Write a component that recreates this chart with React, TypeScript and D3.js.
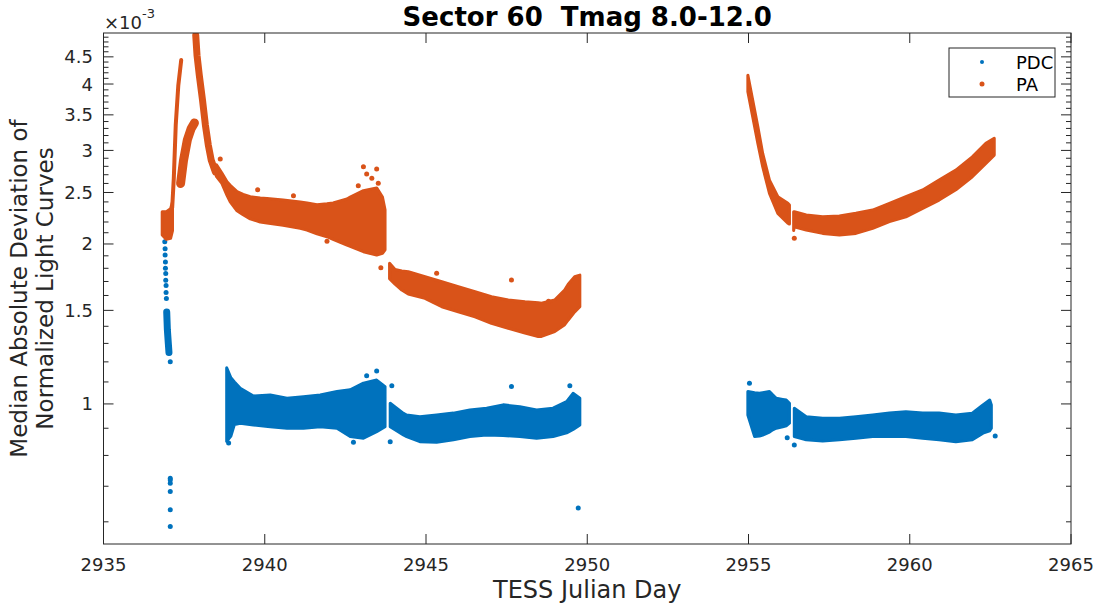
import React from 'react';
import * as d3 from 'd3';

// values in units of 1e-3 (axis multiplier shown as x10^-3)
const xTicks = [2935, 2940, 2945, 2950, 2955, 2960, 2965];
const yTicks = [1, 1.5, 2, 2.5, 3, 3.5, 4, 4.5];
const seriesNames = ['PDC', 'PA'];

// dense bands: [day, lower, upper]
const pdcBand1 = [
  [2938.82, 0.85, 1.17], [2938.95, 0.87, 1.12], [2939.06, 0.915, 1.10], [2939.24, 0.92, 1.07],
  [2939.65, 0.913, 1.035], [2940.17, 0.906, 1.04], [2940.69, 0.9, 1.025], [2941.2, 0.9, 1.032],
  [2941.72, 0.906, 1.04], [2942.24, 0.9, 1.055], [2942.65, 0.868, 1.063], [2943.06, 0.862, 1.094],
  [2943.47, 0.887, 1.109], [2943.73, 0.906, 1.078],
];
const pdcBand2 = [
  [2943.89, 0.906, 1.003], [2944.09, 0.89, 0.982], [2944.3, 0.874, 0.96], [2944.4, 0.868, 0.953],
  [2944.81, 0.849, 0.946], [2945.33, 0.847, 0.953], [2945.85, 0.856, 0.961], [2946.36, 0.868, 0.974],
  [2946.88, 0.874, 0.982], [2947.39, 0.872, 0.996], [2947.91, 0.868, 0.988], [2948.43, 0.862, 0.974],
  [2948.94, 0.868, 0.982], [2949.36, 0.882, 1.01], [2949.56, 0.895, 1.047], [2949.77, 0.913, 1.025],
];
const pdcBand3a = [
  [2954.98, 0.953, 1.055], [2955.19, 0.868, 1.05], [2955.34, 0.87, 1.047], [2955.44, 0.874, 1.05],
  [2955.65, 0.885, 1.055], [2955.75, 0.894, 1.04], [2955.86, 0.9, 1.025], [2956.06, 0.906, 1.02],
  [2956.17, 0.91, 1.017], [2956.27, 0.92, 1.003],
];
const pdcBand3b = [
  [2956.42, 0.868, 0.982], [2956.79, 0.856, 0.946], [2957.3, 0.852, 0.94], [2957.82, 0.856, 0.94],
  [2958.33, 0.862, 0.946], [2958.85, 0.868, 0.953], [2959.37, 0.868, 0.961], [2959.88, 0.868, 0.967],
  [2960.4, 0.862, 0.961], [2960.91, 0.856, 0.961], [2961.43, 0.849, 0.953], [2961.94, 0.856, 0.961],
  [2962.27, 0.881, 0.996], [2962.48, 0.89, 1.017], [2962.53, 0.9, 0.996],
];
const paChunk = [
  [2936.82, 2.08, 2.3], [2936.95, 2.04, 2.3], [2937.08, 2.05, 2.33], [2937.14, 2.12, 2.4],
];
const paBand1 = [
  [2938.5, 2.68, 2.82], [2938.67, 2.6, 2.72], [2938.83, 2.47, 2.62], [2938.93, 2.4, 2.58],
  [2939.14, 2.31, 2.51], [2939.33, 2.27, 2.48], [2939.55, 2.23, 2.455], [2939.86, 2.2, 2.44],
  [2940.07, 2.19, 2.437], [2940.57, 2.17, 2.42], [2941.1, 2.14, 2.4], [2941.31, 2.124, 2.39],
  [2941.62, 2.09, 2.37], [2941.93, 2.064, 2.38], [2942.12, 2.04, 2.39], [2942.55, 1.99, 2.43],
  [2942.65, 1.98, 2.45], [2943.06, 1.934, 2.52], [2943.47, 1.906, 2.55], [2943.65, 1.92, 2.45],
  [2943.73, 1.95, 2.32],
];
const paBand2 = [
  [2943.87, 1.72, 1.84], [2944.04, 1.68, 1.79], [2944.25, 1.638, 1.78], [2944.45, 1.61, 1.774],
  [2944.97, 1.58, 1.736], [2945.49, 1.524, 1.698], [2946.0, 1.491, 1.662], [2946.52, 1.459, 1.626],
  [2947.03, 1.418, 1.591], [2947.55, 1.388, 1.569], [2948.07, 1.359, 1.557], [2948.48, 1.339, 1.55],
  [2948.58, 1.34, 1.547], [2948.99, 1.368, 1.569], [2949.3, 1.41, 1.638], [2949.41, 1.439, 1.68],
  [2949.61, 1.49, 1.736], [2949.77, 1.524, 1.748],
];
const paBand3a = [
  [2954.98, 3.867, 4.157], [2955.13, 3.47, 3.73], [2955.29, 3.093, 3.323], [2955.44, 2.795, 2.961],
  [2955.65, 2.49, 2.638], [2955.91, 2.284, 2.455], [2956.22, 2.188, 2.385], [2956.27, 2.18, 2.367],
];
const paBand3b = [
  [2956.4, 2.12, 2.3], [2956.42, 2.155, 2.3], [2956.79, 2.125, 2.267], [2957.3, 2.094, 2.25],
  [2957.82, 2.079, 2.257], [2958.33, 2.094, 2.284], [2958.85, 2.14, 2.317], [2959.37, 2.203, 2.385],
  [2959.88, 2.25, 2.455], [2960.4, 2.334, 2.527], [2960.91, 2.419, 2.638], [2961.43, 2.53, 2.755],
  [2961.94, 2.676, 2.918], [2962.36, 2.836, 3.093], [2962.62, 2.94, 3.161],
];

// steep thin streaks: [day, value] along the middle
const pdcStreak = [[2936.96, 1.49], [2936.98, 1.38], [2937.01, 1.3], [2937.03, 1.25]];
const paRise = [[2937.13, 2.34], [2937.18, 2.66], [2937.24, 3.35], [2937.32, 3.98], [2937.41, 4.44]];
const paShoulder = [[2937.39, 2.6], [2937.48, 2.87], [2937.6, 3.14], [2937.72, 3.3], [2937.82, 3.38]];
const paPeak = [
  [2937.86, 4.94], [2937.9, 4.53], [2937.97, 4.157], [2938.07, 3.73], [2938.16, 3.347],
  [2938.25, 3.07], [2938.34, 2.876], [2938.47, 2.73],
];

// sparse points
const pdcDots = [
  [2936.9, 2.08], [2936.9, 2.02], [2936.91, 1.96], [2936.91, 1.906], [2936.92, 1.85], [2936.92, 1.8],
  [2936.93, 1.76], [2936.93, 1.71], [2936.94, 1.67], [2936.94, 1.62], [2936.95, 1.58], [2937.07, 1.2],
  [2937.07, 0.725], [2937.07, 0.719], [2937.07, 0.709], [2937.07, 0.684], [2937.07, 0.632], [2937.07, 0.588],
  [2943.16, 1.13], [2943.47, 1.154], [2943.94, 1.082], [2943.89, 0.849], [2938.88, 0.844], [2942.75, 0.847],
  [2947.65, 1.078], [2949.46, 1.082], [2949.72, 0.637], [2955.03, 1.094], [2956.42, 0.837], [2956.2, 0.864],
  [2962.65, 0.87],
];
const paDots = [
  [2938.62, 2.889], [2939.78, 2.53], [2940.89, 2.465], [2942.9, 2.574], [2943.06, 2.795], [2943.16, 2.708],
  [2943.32, 2.658], [2943.47, 2.767], [2943.52, 2.601], [2943.6, 1.805], [2941.93, 2.024], [2945.33, 1.762],
  [2947.65, 1.711], [2948.8, 1.56], [2956.42, 2.05],
];

const W = 1099;
const H = 607;
const L = 103.5, R = 1071, T = 33, B = 544;
const FONT = '"DejaVu Sans", sans-serif';
const AX = '#262626';
const BLUE = '#0072BD';
const ORANGE = '#D95319';

export default function App() {
  const x = d3.scaleLinear().domain([2935, 2965]).range([L, R]);
  const y = d3.scaleLog().domain([0.545, 4.99]).range([B, T]);

  const area = d3.area<number[]>().x(d => x(d[0])).y0(d => y(d[1])).y1(d => y(d[2]));
  const line = d3.line<number[]>().x(d => x(d[0])).y(d => y(d[1]));

  const minor = [0.6, 0.7, 0.8, 0.9, ...d3.range(11, 50).map(v => v / 10)]
    .filter(v => !yTicks.some(t => Math.abs(t - v) < 1e-9));

  const bands = (data: number[][][], color: string) =>
    data.map((d, i) => (
      <path key={i} d={area(d) || ''} fill={color} stroke={color} strokeWidth={3} strokeLinejoin="round" />
    ));
  const streaks = (data: [number[][], number][], color: string) =>
    data.map(([d, w], i) => (
      <path key={i} d={line(d) || ''} fill="none" stroke={color} strokeWidth={w} strokeLinecap="round" strokeLinejoin="round" />
    ));
  const dots = (data: number[][], color: string) =>
    data.map((d, i) => <circle key={i} cx={x(d[0])} cy={y(d[1])} r={2.5} fill={color} />);

  return (
    <svg width={W} height={H} style={{ position: 'absolute', left: 0, top: 0, background: '#fff' }} fontFamily={FONT}>
      <defs>
        <clipPath id="plot">
          <rect x={L} y={T} width={R - L} height={B - T} />
        </clipPath>
      </defs>
      <rect width={W} height={H} fill="#fff" />

      <g clipPath="url(#plot)">
        {bands([pdcBand1, pdcBand2, pdcBand3a, pdcBand3b], BLUE)}
        {streaks([[pdcStreak, 7]], BLUE)}
        {dots(pdcDots, BLUE)}
        {bands([paChunk, paBand1, paBand2, paBand3a, paBand3b], ORANGE)}
        {streaks([[paRise, 4], [paShoulder, 9], [paPeak, 7]], ORANGE)}
        {dots(paDots, ORANGE)}
      </g>

      {/* axes box */}
      <rect x={L} y={T} width={R - L} height={B - T} fill="none" stroke={AX} strokeWidth={1} />

      {xTicks.map(t => (
        <g key={t}>
          <line x1={x(t)} x2={x(t)} y1={B} y2={B - 10} stroke={AX} />
          <line x1={x(t)} x2={x(t)} y1={T} y2={T + 10} stroke={AX} />
          <text x={x(t)} y={571} textAnchor="middle" fontSize={18} fill={AX}>{t}</text>
        </g>
      ))}
      {yTicks.map(t => (
        <g key={t}>
          <line x1={L} x2={L + 10} y1={y(t)} y2={y(t)} stroke={AX} />
          <line x1={R} x2={R - 10} y1={y(t)} y2={y(t)} stroke={AX} />
          <text x={93} y={y(t)} textAnchor="end" dominantBaseline="central" fontSize={18} fill={AX}>{t}</text>
        </g>
      ))}
      {minor.map(t => (
        <g key={t}>
          <line x1={L} x2={L + 5} y1={y(t)} y2={y(t)} stroke={AX} />
          <line x1={R} x2={R - 5} y1={y(t)} y2={y(t)} stroke={AX} />
        </g>
      ))}

      {/* exponent */}
      <text x={104} y={29} fontSize={18} fill={AX}>
        ×10
        <tspan dy={-11} fontSize={13}>-3</tspan>
      </text>

      <text x={(L + R) / 2} y={26} textAnchor="middle" fontSize={26} fontWeight="bold" fill="#000" style={{ whiteSpace: 'pre' }}>
        {'Sector 60  Tmag 8.0-12.0'}
      </text>
      <text x={(L + R) / 2} y={598} textAnchor="middle" fontSize={24} fill={AX}>TESS Julian Day</text>
      <text transform={`translate(27,${(T + B) / 2}) rotate(-90)`} textAnchor="middle" fontSize={23} fill={AX}>
        Median Absolute Deviation of
      </text>
      <text transform={`translate(53,${(T + B) / 2}) rotate(-90)`} textAnchor="middle" fontSize={23} fill={AX}>
        Normalized Light Curves
      </text>

      {/* legend */}
      <rect x={949} y={48} width={106} height={49} fill="#fff" stroke={AX} strokeWidth={1} />
      {seriesNames.map((s, i) => (
        <g key={s}>
          <circle cx={982} cy={62 + i * 22} r={i === 0 ? 2 : 2.5} fill={i === 0 ? BLUE : ORANGE} />
          <text x={1016} y={62 + i * 22} dominantBaseline="central" fontSize={18} fill="#000">{s}</text>
        </g>
      ))}
    </svg>
  );
}
